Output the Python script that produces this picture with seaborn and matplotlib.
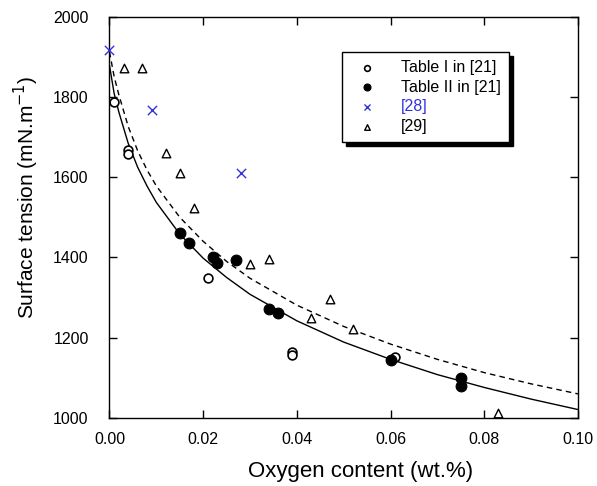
import matplotlib
matplotlib.use("Agg")
import matplotlib.pyplot as plt
import seaborn as sns
import pandas as pd

# ---- data ----
t1_x = [0.001, 0.004, 0.004, 0.021, 0.039, 0.039, 0.061]
t1_y = [1788, 1668, 1658, 1349, 1164, 1157, 1153]

t2_x = [0.015, 0.017, 0.022, 0.023, 0.027, 0.034, 0.036, 0.060, 0.075, 0.075]
t2_y = [1461, 1436, 1401, 1386, 1394, 1271, 1261, 1144, 1100, 1080]

r28_x = [0.000, 0.009, 0.028]
r28_y = [1916, 1768, 1610]

r29_x = [0.003, 0.007, 0.012, 0.015, 0.018, 0.030, 0.034, 0.043, 0.047, 0.052, 0.083]
r29_y = [1872, 1872, 1660, 1610, 1523, 1383, 1396, 1249, 1296, 1222, 1012]

curve_x = [0.0, 0.001, 0.002, 0.004, 0.006, 0.008, 0.010, 0.015, 0.020, 0.025, 0.030,
           0.040, 0.050, 0.060, 0.070, 0.080, 0.090, 0.100]
solid_y = [1878, 1808, 1762, 1684, 1625, 1578, 1537, 1458, 1398, 1350, 1308,
           1242, 1189, 1146, 1108, 1076, 1047, 1021]
dashed_y = [1912, 1850, 1805, 1726, 1666, 1618, 1578, 1500, 1440, 1390, 1348,
            1281, 1228, 1184, 1146, 1113, 1085, 1060]

x_ticks = [0.00, 0.02, 0.04, 0.06, 0.08, 0.10]
y_ticks = [1000, 1200, 1400, 1600, 1800, 2000]

# ---- style ----
sns.set_style("ticks")
plt.rcParams['font.family'] = ['Liberation Sans', 'DejaVu Sans']

fig = plt.figure(figsize=(5.97, 4.86), dpi=100)
ax = fig.add_axes([0.1834, 0.140, 0.7846, 0.826])

curves = pd.DataFrame({"x": curve_x, "solid": solid_y, "dashed": dashed_y})
sns.lineplot(data=curves, x="x", y="solid", ax=ax, color="black", lw=1.0,
             sort=False, label="_nolegend_")
sns.lineplot(data=curves, x="x", y="dashed", ax=ax, color="black", lw=1.0,
             sort=False, label="_nolegend_", linestyle=(0, (4, 3)))

sns.scatterplot(x=t1_x, y=t1_y, ax=ax, marker="o", s=40, facecolor="white",
                edgecolor="black", linewidth=1.2, label="Table I in [21]", zorder=3)
sns.scatterplot(x=t2_x, y=t2_y, ax=ax, marker="o", s=60, color="black",
                edgecolor="black", linewidth=0.8, label="Table II in [21]", zorder=3)
sns.scatterplot(x=r28_x, y=r28_y, ax=ax, marker="x", s=45, color="#3333dd",
                linewidth=1.0, label="[28]", zorder=3, clip_on=False)
sns.scatterplot(x=r29_x, y=r29_y, ax=ax, marker="^", s=38, facecolor="white",
                edgecolor="black", linewidth=1.0, label="[29]", zorder=3)

ax.set_xlim(0, 0.10)
ax.set_ylim(1000, 2000)
ax.set_xticks(x_ticks)
ax.set_xticklabels([f"{v:.2f}" for v in x_ticks])
ax.set_yticks(y_ticks)
ax.tick_params(direction="in", length=6, width=1, top=True, right=True,
               labelsize=11.5, colors="black")
ax.tick_params(axis="x", pad=10)
ax.tick_params(axis="y", pad=15)
for sp in ax.spines.values():
    sp.set_linewidth(1.0)
    sp.set_color("black")

ax.set_xlabel("Oxygen content (wt.%)", fontsize=16, color="black")
ax.set_ylabel("Surface tension (mN.m$^{-1}$)", fontsize=15, color="black")
ax.xaxis.set_label_coords(0.535, -0.106)
ax.yaxis.set_label_coords(-0.146, 0.55)

leg = ax.legend(loc="upper left", bbox_to_anchor=(0.496, 0.912), fontsize=11.5,
                frameon=True, fancybox=False, edgecolor="black",
                shadow={"color": "black", "alpha": 1.0, "ox": 3, "oy": -3},
                borderpad=0.5, handletextpad=1.0, labelspacing=0.3,
                handlelength=2.2, borderaxespad=0, markerscale=0.65)
leg.get_frame().set_linewidth(1.0)
for txt in leg.get_texts():
    txt.set_color("black")
leg.get_texts()[2].set_color("#3333dd")

fig.savefig("out.png", dpi=100)
